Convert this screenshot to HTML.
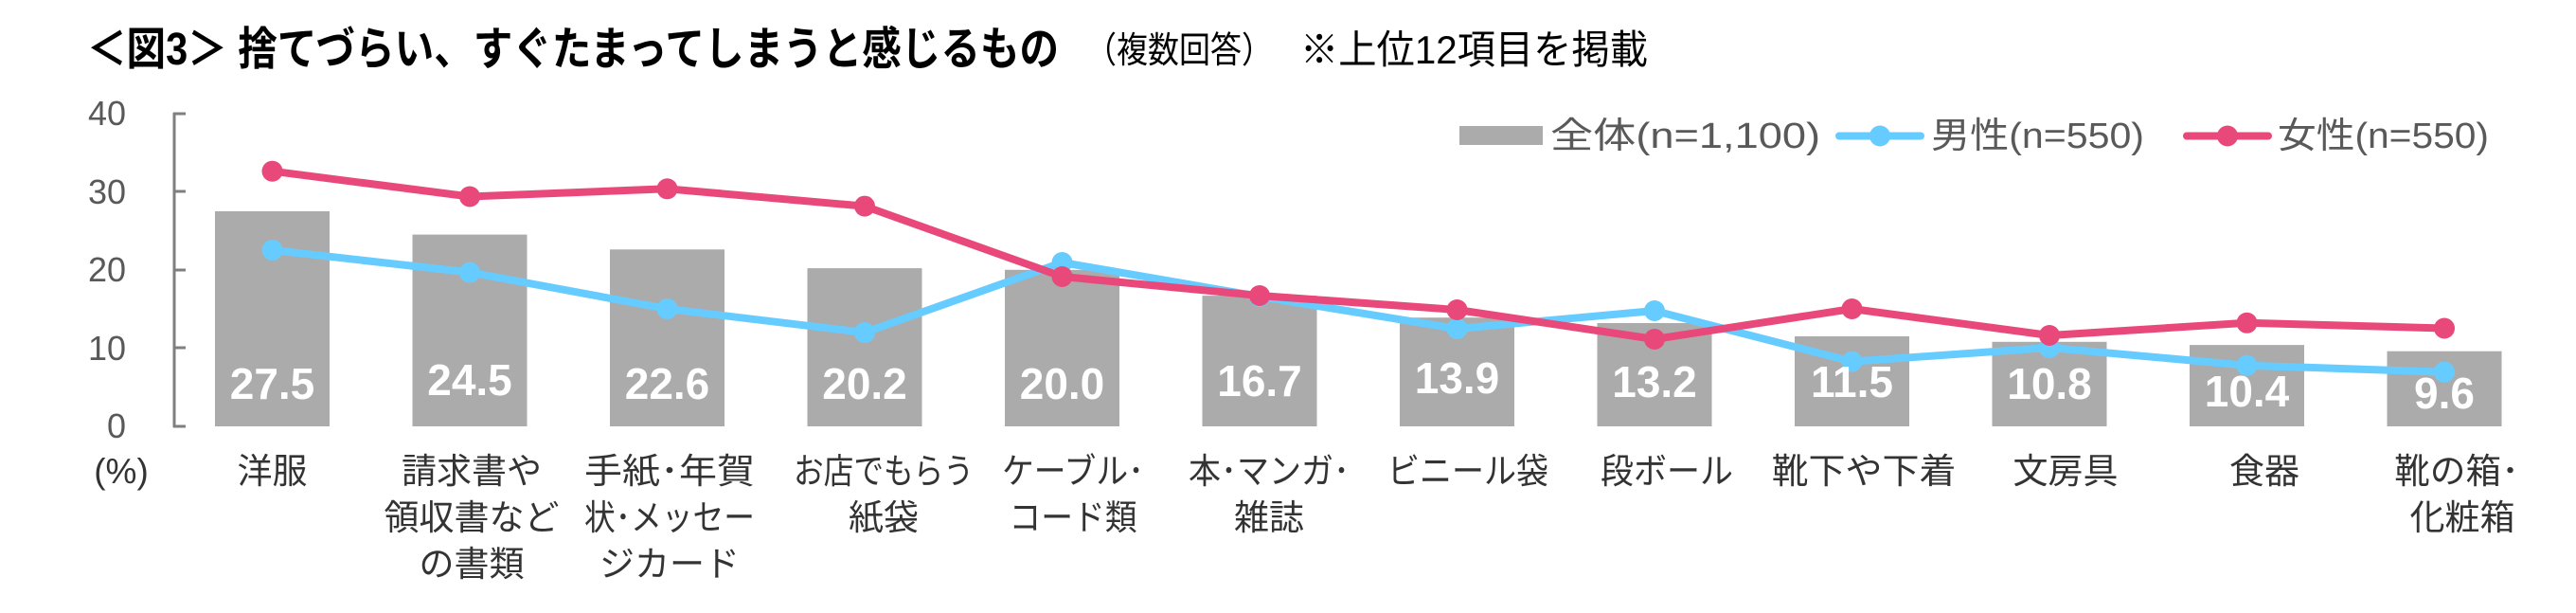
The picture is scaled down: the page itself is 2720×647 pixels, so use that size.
<!DOCTYPE html>
<html><head><meta charset="utf-8"><style>
html,body{margin:0;padding:0;background:#fff;}
svg{display:block;}
text{font-family:"Liberation Sans","Noto Sans CJK JP",sans-serif;}
</style></head><body>
<svg width="2720" height="647" viewBox="0 0 2720 647" xmlns="http://www.w3.org/2000/svg">
<!-- title -->
<text x="92" y="68" font-size="48" font-weight="bold" fill="#000" textLength="1026" lengthAdjust="spacingAndGlyphs">＜図3＞ 捨てづらい、すぐたまってしまうと感じるもの</text>
<text x="1146" y="66" font-size="38" fill="#000" textLength="198" lengthAdjust="spacingAndGlyphs">（複数回答）</text>
<text x="1373" y="67" font-size="42" fill="#000" textLength="367" lengthAdjust="spacingAndGlyphs">※上位12項目を掲載</text>

<!-- y axis -->
<g fill="#595959" font-size="36" text-anchor="end">
<text x="133" y="132">40</text>
<text x="133" y="215">30</text>
<text x="133" y="297">20</text>
<text x="133" y="380">10</text>
<text x="133" y="462">0</text>
</g>
<g stroke="#7f7f7f" stroke-width="3" fill="none">
<line x1="184" y1="119" x2="184" y2="451"/>
<line x1="183" y1="120" x2="196" y2="120"/>
<line x1="183" y1="202" x2="196" y2="202"/>
<line x1="183" y1="285" x2="196" y2="285"/>
<line x1="183" y1="367" x2="196" y2="367"/>
<line x1="183" y1="450" x2="196" y2="450"/>
</g>

<!-- bars -->
<g fill="#ababab">
<rect x="227" y="223" width="121" height="227"/>
<rect x="435.5" y="247.6" width="121" height="202.4"/>
<rect x="644" y="263.3" width="121" height="186.7"/>
<rect x="852.5" y="283.1" width="121" height="166.9"/>
<rect x="1061" y="284.8" width="121" height="165.2"/>
<rect x="1269.5" y="312.1" width="121" height="137.9"/>
<rect x="1478" y="335.2" width="121" height="114.8"/>
<rect x="1686.5" y="341" width="121" height="109"/>
<rect x="1895" y="355" width="121" height="95"/>
<rect x="2103.5" y="360.8" width="121" height="89.2"/>
<rect x="2312" y="364.1" width="121" height="85.9"/>
<rect x="2520.5" y="370.7" width="121" height="79.3"/>
</g>

<!-- lines -->
<polyline fill="none" stroke="#66ccff" stroke-width="8" stroke-linejoin="round" points="287.5,264 496,287.5 704.5,326 913,351 1121.5,277 1330,313 1538.5,347 1747,328 1955.5,381.6 2164,367 2372.5,385.7 2581,392.7"/>
<g fill="#66ccff">
<circle cx="287.5" cy="264" r="11"/><circle cx="496" cy="287.5" r="11"/><circle cx="704.5" cy="326" r="11"/><circle cx="913" cy="351" r="11"/><circle cx="1121.5" cy="277" r="11"/><circle cx="1330" cy="313" r="11"/><circle cx="1538.5" cy="347" r="11"/><circle cx="1747" cy="328" r="11"/><circle cx="1955.5" cy="381.6" r="11"/><circle cx="2164" cy="367" r="11"/><circle cx="2372.5" cy="385.7" r="11"/><circle cx="2581" cy="392.7" r="11"/>
</g>
<polyline fill="none" stroke="#e9497a" stroke-width="8" stroke-linejoin="round" points="287.5,180.7 496,207.5 704.5,199.3 913,217.6 1121.5,292 1330,312 1538.5,327 1747,358 1955.5,326 2164,354 2372.5,340.8 2581,346.5"/>
<g fill="#e9497a">
<circle cx="287.5" cy="180.7" r="11"/><circle cx="496" cy="207.5" r="11"/><circle cx="704.5" cy="199.3" r="11"/><circle cx="913" cy="217.6" r="11"/><circle cx="1121.5" cy="292" r="11"/><circle cx="1330" cy="312" r="11"/><circle cx="1538.5" cy="327" r="11"/><circle cx="1747" cy="358" r="11"/><circle cx="1955.5" cy="326" r="11"/><circle cx="2164" cy="354" r="11"/><circle cx="2372.5" cy="340.8" r="11"/><circle cx="2581" cy="346.5" r="11"/>
</g>

<!-- data labels -->
<g fill="#fff" font-size="46" font-weight="bold" text-anchor="middle">
<text x="287.5" y="421">27.5</text>
<text x="496" y="417">24.5</text>
<text x="704.5" y="421">22.6</text>
<text x="913" y="421">20.2</text>
<text x="1121.5" y="421">20.0</text>
<text x="1330" y="418">16.7</text>
<text x="1538.5" y="415">13.9</text>
<text x="1747" y="419">13.2</text>
<text x="1955.5" y="419">11.5</text>
<text x="2164" y="421">10.8</text>
<text x="2372.5" y="429">10.4</text>
<text x="2581" y="431">9.6</text>
</g>

<!-- category labels -->
<g fill="#333" font-size="37" text-anchor="middle">
<text x="128" y="510">(%)</text>
<text x="287.5" y="510">洋服</text>
<text x="498" y="510">請求書や</text><text x="498" y="559" textLength="185" lengthAdjust="spacingAndGlyphs">領収書など</text><text x="498" y="608">の書類</text>
<text x="707" y="510" textLength="180" lengthAdjust="spacingAndGlyphs">手紙･年賀</text><text x="707" y="559" textLength="180" lengthAdjust="spacingAndGlyphs">状･メッセー</text><text x="707" y="608">ジカード</text>
<text x="933" y="510" textLength="190" lengthAdjust="spacingAndGlyphs">お店でもらう</text><text x="933" y="559">紙袋</text>
<text x="1133" y="510" textLength="150" lengthAdjust="spacingAndGlyphs">ケーブル･</text><text x="1133" y="559" textLength="135" lengthAdjust="spacingAndGlyphs">コード類</text>
<text x="1340" y="510" textLength="170" lengthAdjust="spacingAndGlyphs">本･マンガ･</text><text x="1340" y="559">雑誌</text>
<text x="1550" y="510" textLength="170" lengthAdjust="spacingAndGlyphs">ビニール袋</text>
<text x="1760" y="510" textLength="140" lengthAdjust="spacingAndGlyphs">段ボール</text>
<text x="1968" y="510" textLength="195" lengthAdjust="spacingAndGlyphs">靴下や下着</text>
<text x="2181" y="510">文房具</text>
<text x="2391" y="510">食器</text>
<text x="2594" y="510" textLength="132" lengthAdjust="spacingAndGlyphs">靴の箱･</text><text x="2600" y="559">化粧箱</text>
</g>

<!-- legend -->
<rect x="1541" y="133" width="88" height="20" fill="#ababab"/>
<text x="1637" y="156" font-size="38" fill="#595959" textLength="285" lengthAdjust="spacingAndGlyphs">全体(n=1,100)</text>
<line x1="1942" y1="143.5" x2="2028" y2="143.5" stroke="#66ccff" stroke-width="8" stroke-linecap="round"/>
<circle cx="1985" cy="143.5" r="11" fill="#66ccff"/>
<text x="2039" y="156" font-size="38" fill="#595959" textLength="225" lengthAdjust="spacingAndGlyphs">男性(n=550)</text>
<line x1="2309" y1="143.5" x2="2395" y2="143.5" stroke="#e9497a" stroke-width="8" stroke-linecap="round"/>
<circle cx="2352" cy="143.5" r="11" fill="#e9497a"/>
<text x="2405" y="156" font-size="38" fill="#595959" textLength="223" lengthAdjust="spacingAndGlyphs">女性(n=550)</text>
</svg>
</body></html>
